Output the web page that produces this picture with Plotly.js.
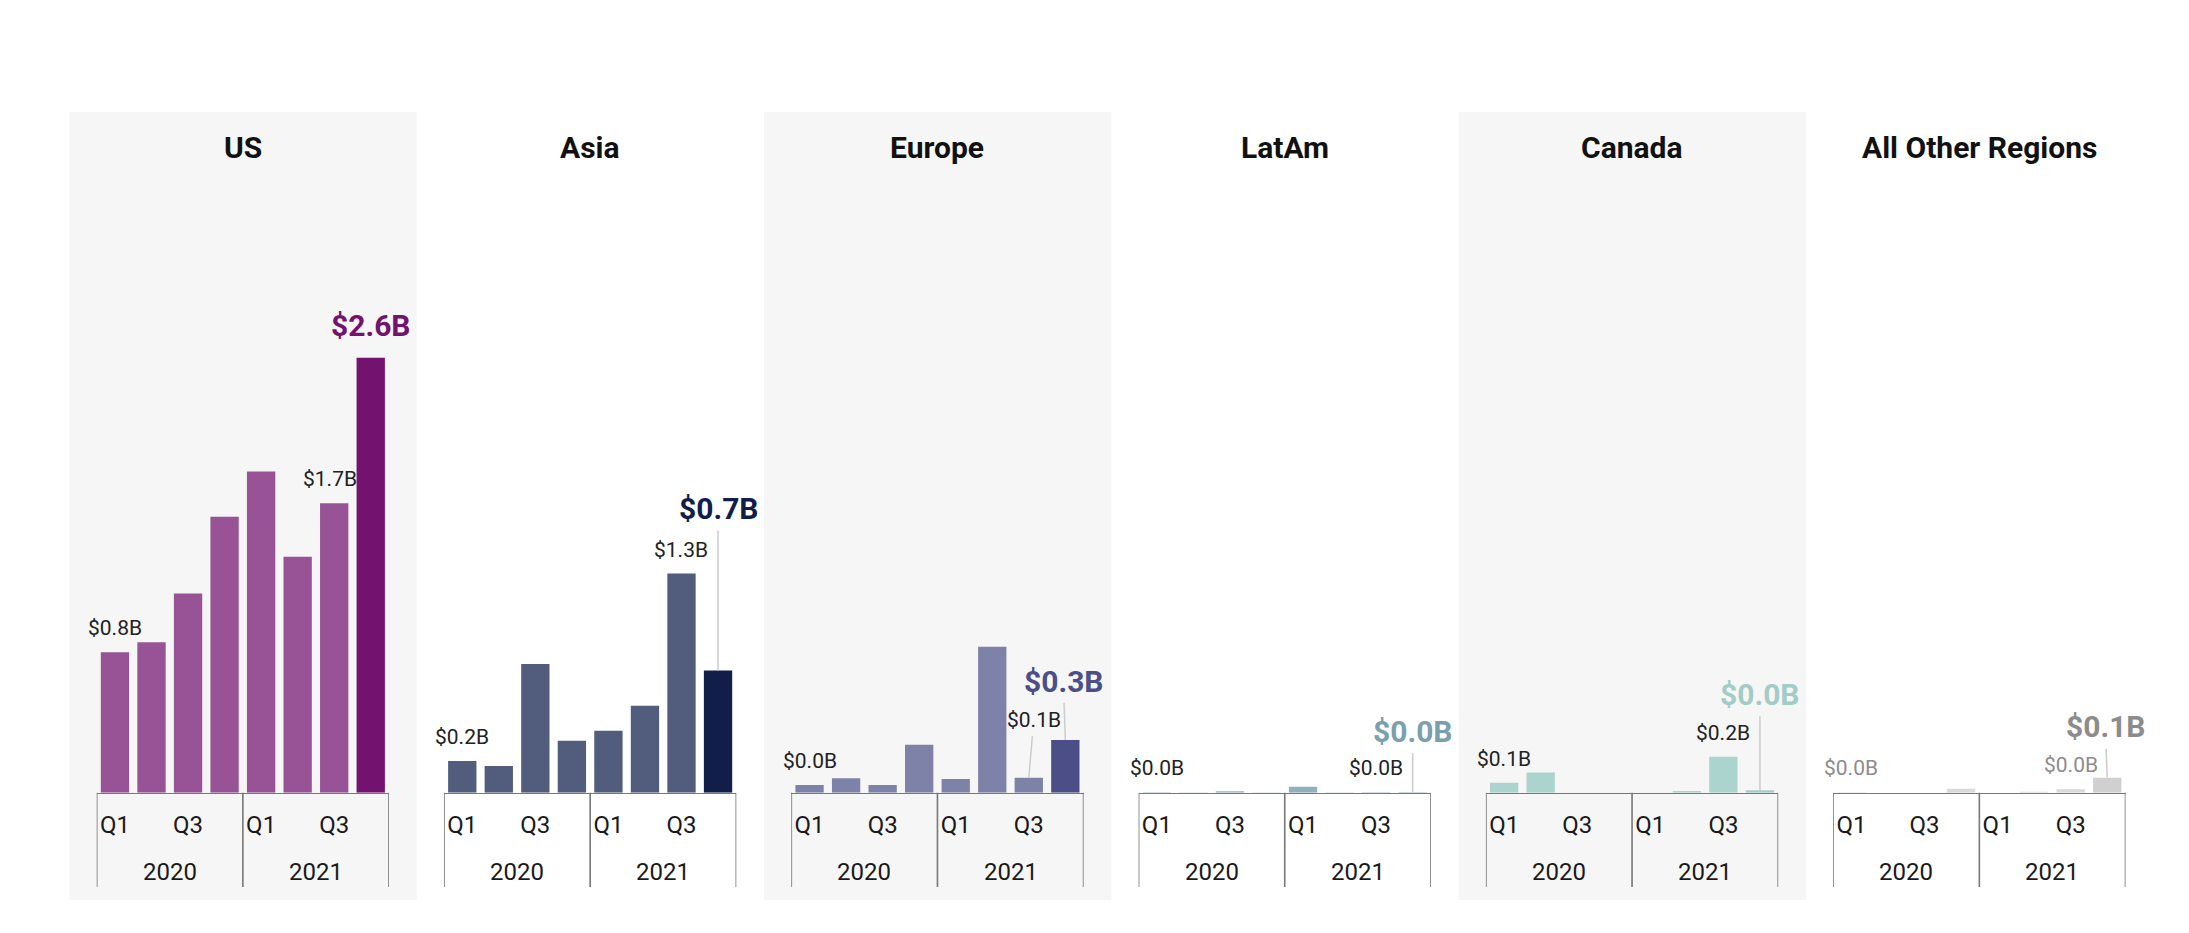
<!DOCTYPE html>
<html><head><meta charset="utf-8">
<script src="https://cdn.plot.ly/plotly-3.0.1.min.js"></script>
<style>html,body{margin:0;padding:0;background:#fff;} #chart{width:2189px;height:933px;}</style>
</head><body><div id="chart"></div>
<script>
// ---- data ----
const regions = ['US', 'Asia', 'Europe', 'LatAm', 'Canada', 'All Other Regions'];
const years = ['2020', '2021'];
const quarters = ['Q1', 'Q2', 'Q3', 'Q4'];
const shownQuarterLabels = ['Q1', 'Q3'];
const usValues     = [0.84, 0.90, 1.19, 1.65, 1.92, 1.41, 1.73, 2.60];
const asiaValues   = [0.19, 0.16, 0.77, 0.31, 0.37, 0.52, 1.31, 0.73];
const europeValues = [0.046, 0.086, 0.046, 0.287, 0.082, 0.873, 0.09, 0.315];
const latamValues  = [0.002, 0.001, 0.008, 0.001, 0.035, 0.001, 0.003, 0.002];
const canadaValues = [0.06, 0.12, 0, 0, 0, 0.01, 0.215, 0.015];
const otherValues  = [0.003, 0, 0, 0.024, 0, 0.005, 0.02, 0.09];
const labeledIdx = [0, 6, 7];   // bars that carry a value label

// ---- styles ----
const seriesValues = [usValues, asiaValues, europeValues, latamValues, canadaValues, otherValues];
const styles = [
  {bar: '#985396', hi: '#741270', text: '#222222', hiText: '#741270'},
  {bar: '#525d7d', hi: '#111e4a', text: '#222222', hiText: '#111e4a'},
  {bar: '#7f82a8', hi: '#4c4f87', text: '#222222', hiText: '#4c4f87'},
  {bar: '#8fb1bc', hi: '#7aa0ae', text: '#222222', hiText: '#7aa0ae'},
  {bar: '#acd4ce', hi: '#a2ccc6', text: '#222222', hiText: '#a2ccc6'},
  {bar: '#d9d9d9', hi: '#d0d0d0', text: '#8c8c8c', hiText: '#8c8c8c'}
];
// label placement per region (pixel offsets), keyed by bar index
const placement = [
  {0: {}, 6: {xshift: -4}, 7: {}},
  {0: {}, 6: {}, 7: {arrow: true, ax: 0, ay: -162}},
  {0: {}, 6: {arrow: true, ax: 5, ay: -58}, 7: {arrow: true, ax: -2, ay: -59}},
  {0: {}, 6: {}, 7: {arrow: true, ax: 0, ay: -61}},
  {0: {}, 6: {}, 7: {arrow: true, ax: 0, ay: -96}},
  {0: {}, 6: {}, 7: {arrow: true, ax: -2, ay: -51}}
];

const W = 2189, H = 933;
const panelStep = 347.3;
const axisLeft = 96.7, axisRight = 389;
const bgLeft = 69.5, bgRight = 416.8;
const py = px => 1 - px / H;
const axisColor = '#777777';

const cats = [];
const catYear = [];
const catQuarter = [];
years.forEach(y => quarters.forEach(q => { cats.push(q + ' ' + y); catYear.push(y); catQuarter.push(q); }));
const tickVals = cats.filter((c, i) => shownQuarterLabels.includes(catQuarter[i]));
const tickText = tickVals.map(c => catQuarter[cats.indexOf(c)]);

const fmt = v => '$' + v.toFixed(1) + 'B';

const traces = [];
const layout = {
  width: W, height: H,
  margin: {l: 0, r: 0, t: 0, b: 0},
  paper_bgcolor: '#ffffff', plot_bgcolor: 'rgba(0,0,0,0)',
  font: {family: 'Roboto, sans-serif', color: '#222222'},
  showlegend: false, hovermode: false, bargap: 0.225,
  annotations: [], shapes: []
};

regions.forEach((name, r) => {
  const n = r === 0 ? '' : String(r + 1);
  const xa = 'x' + n, ya = 'y' + n;
  const st = styles[r];
  const vals = seriesValues[r];
  traces.push({
    type: 'bar', x: cats, y: vals, xaxis: xa, yaxis: ya,
    marker: {color: cats.map((c, i) => i === cats.length - 1 ? st.hi : st.bar)},
    hoverinfo: 'skip', showlegend: false
  });
  const off = panelStep * r;
  layout['xaxis' + n] = {
    domain: [(axisLeft + off) / W, (axisRight + off) / W], anchor: ya,
    type: 'category', range: [-0.5, cats.length - 0.5],
    showline: true, linecolor: axisColor, linewidth: 1.6,
    ticks: '', tickmode: 'array', tickvals: tickVals, ticktext: tickText,
    tickfont: {size: 24, color: '#1a1a1a'}, ticklabelstandoff: 10,
    showgrid: false, zeroline: false, fixedrange: true
  };
  layout['yaxis' + n] = {
    domain: [py(792.7), py(112)], anchor: xa, range: [0, 4.0688],
    visible: false, showgrid: false, zeroline: false, fixedrange: true
  };
  // panel background
  if (r % 2 === 0) {
    layout.shapes.push({type: 'rect', xref: 'paper', yref: 'paper', layer: 'below',
      x0: (bgLeft + off) / W, x1: (bgRight + off) / W, y0: py(900), y1: py(112),
      fillcolor: '#f6f6f6', line: {width: 0}});
  }
  // group dividers & year labels
  years.forEach((y, k) => {
    const idx = catYear.map((v, i) => v === y ? i : -1).filter(i => i >= 0);
    const first = idx[0], last = idx[idx.length - 1];
    layout.shapes.push({type: 'line', xref: xa, yref: 'paper', x0: first - 0.5, x1: first - 0.5,
      y0: py(792.7), y1: py(887), line: {color: axisColor, width: 1.6}});
    if (k === years.length - 1) {
      layout.shapes.push({type: 'line', xref: xa, yref: 'paper', x0: last + 0.5, x1: last + 0.5,
        y0: py(792.7), y1: py(887), line: {color: axisColor, width: 1.6}});
    }
    layout.annotations.push({xref: xa, yref: 'paper', x: (first + last) / 2, y: py(872),
      yanchor: 'middle', showarrow: false, text: y, font: {size: 24, color: '#1a1a1a'}});
  });
  // panel title
  layout.annotations.push({xref: xa, yref: 'paper', x: (cats.length - 1) / 2, y: py(167),
    yanchor: 'bottom', showarrow: false, text: '<b>' + name + '</b>',
    font: {size: 30, color: '#111111'}});
  // value labels
  labeledIdx.forEach(i => {
    const p = placement[r][i] || {};
    const isHi = i === cats.length - 1;
    const font = isHi ? {size: 30, color: st.hiText} : {size: 21, color: st.text};
    const text = isHi ? '<b>' + fmt(vals[i]) + '</b>' : fmt(vals[i]);
    if (p.arrow) {
      layout.annotations.push({xref: xa, yref: ya, x: cats[i], y: vals[i], text: text, font: font,
        showarrow: true, arrowhead: 0, arrowwidth: 1.5, arrowcolor: '#cccccc',
        ax: p.ax || 0, ay: p.ay, standoff: 0, startstandoff: 3});
    } else {
      layout.annotations.push({xref: xa, yref: ya, x: cats[i], y: vals[i], text: text, font: font,
        showarrow: false, yanchor: 'bottom', xshift: p.xshift || 0, yshift: isHi ? 13 : 10});
    }
  });
});

Plotly.newPlot('chart', traces, layout, {displayModeBar: false, staticPlot: true});
</script>
</body></html>
